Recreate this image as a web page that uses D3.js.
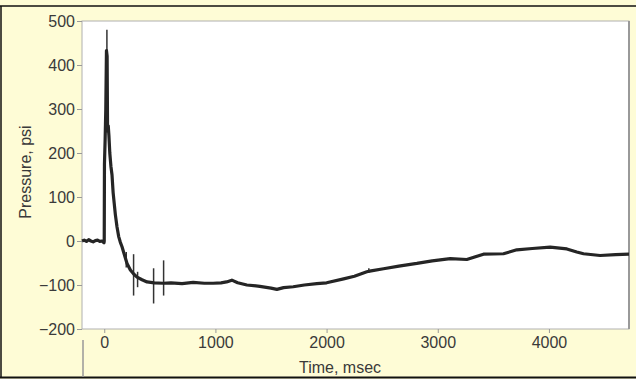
<!DOCTYPE html>
<html>
<head>
<meta charset="utf-8">
<script src="https://cdn.jsdelivr.net/npm/d3@7"></script>
<style>
  body { margin: 0; background: #fefcd6; }
  svg { display: block; }
  .tick line { stroke: #999; }
</style>
</head>
<body>
<script>
// pressure trace
var traceTime = [-200, -180, -160, -140, -120, -100, -80, -60, -40, -20, -2,
  0, 2, 8, 14, 20, 26, 30, 36, 42, 50, 60, 70, 80, 90, 100, 115, 130, 145, 160,
  180, 205, 235, 265, 295, 340, 385, 450, 530, 600, 700, 800, 900, 980, 1050,
  1100, 1148, 1200, 1283, 1400, 1500, 1553, 1613, 1700, 1800, 1912, 2000, 2153,
  2250, 2362, 2400, 2512, 2650, 2812, 2950, 3112, 3261, 3411, 3591, 3711, 3850,
  4011, 4161, 4250, 4311, 4460, 4600, 4720];
var tracePsi = [0, 2, -1, 3, 0, -2, 1, 2, -1, 0, -4,
  0, 175, 230, 300, 433, 420, 250, 262, 240, 200, 170, 150, 110, 85, 60, 32, 10, -3, -13,
  -30, -51, -66, -75, -82, -88, -93, -95, -96, -95, -97, -94, -96, -96, -95,
  -93, -89, -95, -100, -103, -107, -110, -106, -104, -100, -97, -95, -86,
  -80, -70, -68, -63, -57, -51, -45, -40, -42, -30, -29, -20, -17,
  -14, -18, -25, -29, -33, -31, -30];

// isolated noise spikes: time, low, high
var spikeTime = [24, 198, 264, 300, 444, 534, 2380];
var spikeLow = [300, -60, -124, -105, -142, -124, -72];
var spikeHigh = [480, -25, -30, -70, -62, -44, -62];

var xTicks = [0, 1000, 2000, 3000, 4000];
var yTicks = [-200, -100, 0, 100, 200, 300, 400, 500];

var svgWidth = 636, svgHeight = 379;
var plot = { left: 82, top: 21, right: 629, bottom: 329 };
var font = "'Liberation Sans', Arial, sans-serif";

var svg = d3.select("body").append("svg")
  .attr("width", svgWidth)
  .attr("height", svgHeight);

// outer frame lines
svg.append("line").attr("x1", 0).attr("x2", svgWidth).attr("y1", 6).attr("y2", 6)
  .attr("stroke", "#111").attr("stroke-width", 1.5);
svg.append("line").attr("x1", 1).attr("x2", 1).attr("y1", 6).attr("y2", 378)
  .attr("stroke", "#111").attr("stroke-width", 1.5);
svg.append("line").attr("x1", 0).attr("x2", svgWidth).attr("y1", 377.5).attr("y2", 377.5)
  .attr("stroke", "#111").attr("stroke-width", 2);

var x = d3.scaleLinear().domain([-200, 4720]).range([plot.left, plot.right]);
var y = d3.scaleLinear().domain([-200, 500]).range([plot.bottom, plot.top]);

// plot area
svg.append("rect")
  .attr("x", plot.left).attr("y", plot.top)
  .attr("width", plot.right - plot.left).attr("height", plot.bottom - plot.top)
  .attr("fill", "#fff").attr("stroke", "#b0b0b0").attr("stroke-width", 1);
svg.append("line").attr("x1", plot.right).attr("x2", plot.right)
  .attr("y1", plot.top).attr("y2", plot.bottom)
  .attr("stroke", "#999").attr("stroke-width", 2);

// stray axis line under the plot
svg.append("line").attr("x1", plot.left + 1).attr("x2", plot.left + 1)
  .attr("y1", 340).attr("y2", 377)
  .attr("stroke", "#999").attr("stroke-width", 1.5);

var yAxis = svg.append("g")
  .attr("transform", "translate(" + plot.left + ",0)")
  .call(d3.axisLeft(y).tickValues(yTicks).tickFormat(d3.format("d")).tickSize(5).tickPadding(2));
yAxis.select(".domain").remove();

var xAxis = svg.append("g")
  .attr("transform", "translate(0," + plot.bottom + ")")
  .call(d3.axisBottom(x).tickValues(xTicks).tickFormat(d3.format("d")).tickSize(4).tickPadding(4));
xAxis.select(".domain").remove();

svg.selectAll(".tick text")
  .attr("font-family", font)
  .attr("font-size", 16)
  .attr("fill", "#3a3a3a");

// trace
var pts = traceTime.map(function(t, i) { return [t, tracePsi[i]]; });
var line = d3.line().x(d => x(d[0])).y(d => y(d[1]));

svg.append("g").selectAll("line")
  .data(spikeTime)
  .enter().append("line")
  .attr("x1", d => x(d)).attr("x2", d => x(d))
  .attr("y1", (d, i) => y(spikeLow[i])).attr("y2", (d, i) => y(spikeHigh[i]))
  .attr("stroke", "#333").attr("stroke-width", 1.5);

svg.append("path")
  .datum(pts)
  .attr("d", line)
  .attr("fill", "none")
  .attr("stroke", "#252525")
  .attr("stroke-width", 3.2)
  .attr("stroke-linejoin", "round");

// axis titles
svg.append("text")
  .attr("x", 340).attr("y", 373)
  .attr("text-anchor", "middle")
  .attr("font-family", font)
  .attr("font-size", 16).attr("fill", "#3a3a3a")
  .text("Time, msec");

svg.append("text")
  .attr("transform", "translate(31,172) rotate(-90)")
  .attr("text-anchor", "middle")
  .attr("font-family", font)
  .attr("font-size", 16).attr("fill", "#3a3a3a")
  .text("Pressure, psi");
</script>
</body>
</html>
